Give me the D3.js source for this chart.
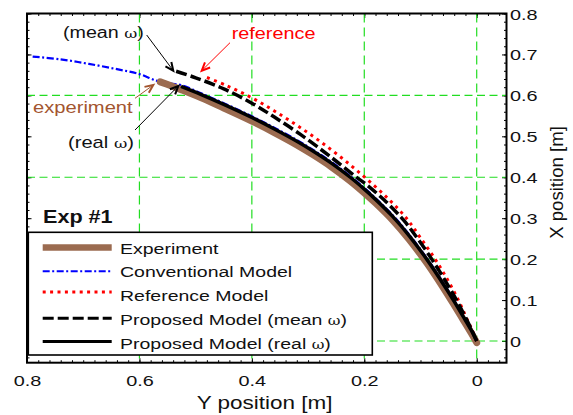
<!DOCTYPE html>
<html><head><meta charset="utf-8">
<script src="https://cdn.jsdelivr.net/npm/d3@7"></script>
<style>
body{margin:0;background:#fff;}
svg{display:block;font-family:"Liberation Sans",Arial,Helvetica,sans-serif;}
</style>
</head><body>
<svg id="chart" width="573" height="415"></svg>
<script>
// ---------------- data ----------------
const hTicks = [0.8, 0.6, 0.4, 0.2, 0];            // "Y position [m]" axis (horizontal, reversed)
const hTickLabels = ["0.8", "0.6", "0.4", "0.2", "0"];
const vTicks = [0, 0.1, 0.2, 0.3, 0.4, 0.5, 0.6, 0.7, 0.8]; // "X position [m]" axis (right)
const vTickLabels = ["0", "0.1", "0.2", "0.3", "0.4", "0.5", "0.6", "0.7", "0.8"];
const hGrid = [0.6, 0.4, 0.2, 0];
const vGrid = [0, 0.2, 0.4, 0.6];
const legendNames = ["Experiment", "Conventional Model", "Reference Model", "Proposed Model (mean \u03c9)", "Proposed Model (real \u03c9)"];

// [Y position, X position]
const experiment = [[0.000,-0.004],[0.010,0.020],[0.025,0.054],[0.0415,0.091],[0.065,0.142],[0.089,0.191],[0.120,0.248],[0.150,0.296],[0.180,0.337],[0.200,0.362],[0.225,0.391],[0.258,0.425],[0.290,0.454],[0.320,0.479],[0.360,0.509],[0.400,0.537],[0.450,0.569],[0.490,0.594],[0.526,0.614],[0.545,0.624],[0.563,0.633]];
const conventional = [[0.000,0.002],[0.010,0.030],[0.025,0.065],[0.0415,0.103],[0.065,0.154],[0.089,0.203],[0.120,0.260],[0.150,0.308],[0.180,0.349],[0.200,0.374],[0.225,0.403],[0.258,0.437],[0.290,0.466],[0.320,0.491],[0.360,0.521],[0.400,0.549],[0.450,0.581],[0.490,0.605],[0.526,0.625],[0.550,0.630],[0.570,0.636],[0.600,0.652],[0.640,0.664],[0.690,0.677],[0.740,0.688],[0.792,0.695]];
const referenceModel = [[0.000,0.000],[0.010,0.032],[0.020,0.062],[0.0326,0.100],[0.052,0.150],[0.074,0.200],[0.100,0.252],[0.125,0.300],[0.160,0.351],[0.200,0.401],[0.240,0.447],[0.280,0.489],[0.320,0.527],[0.360,0.562],[0.400,0.594],[0.445,0.624],[0.486,0.647]];
const meanOmega = [[0.000,0.000],[0.010,0.030],[0.020,0.058],[0.036,0.100],[0.058,0.152],[0.080,0.200],[0.105,0.250],[0.130,0.295],[0.165,0.345],[0.200,0.386],[0.213,0.399],[0.260,0.450],[0.313,0.504],[0.360,0.547],[0.400,0.581],[0.450,0.616],[0.500,0.643],[0.535,0.659]];
const realOmega = [[0.000,0.000],[0.010,0.027],[0.025,0.062],[0.0415,0.100],[0.065,0.151],[0.089,0.200],[0.120,0.257],[0.150,0.305],[0.180,0.346],[0.200,0.371],[0.225,0.400],[0.258,0.434],[0.290,0.463],[0.320,0.488],[0.360,0.518],[0.400,0.546],[0.450,0.578],[0.490,0.602],[0.526,0.622]];

// ---------------- styles ----------------
const seriesStyle = [
  {data: experiment,    stroke: "#9b6b50", width: 7,   dash: null,          lw: 6.5},
  {data: conventional,  stroke: "#0000ff", width: 2.2, dash: "7,2.5,2,2.5", lw: 2.2},
  {data: referenceModel,stroke: "#ff0000", width: 3,   dash: "3,4.4",       lw: 3},
  {data: meanOmega,     stroke: "#000000", width: 3.5, dash: "11,4",        lw: 3.2},
  {data: realOmega,     stroke: "#000000", width: 3.5, dash: null,          lw: 3.2}
];
const drawOrder = [1, 0, 2, 3, 4];

const L = 27, R = 506.5, T = 13.5, B = 362.7;
const svg = d3.select("#chart");
svg.append("rect").attr("width", 573).attr("height", 415).attr("fill", "#fff");

const x = d3.scaleLinear().domain([0.8, -0.053]).range([L, R]);
const y = d3.scaleLinear().domain([-0.053, 0.8]).range([B, T]);

const GREEN = "#22dd22";
const SX = 1.29;

// ---------------- ticks ----------------
const hMinor = d3.range(-4, 41).map(i => i * 0.02).filter(v => v >= -0.053 && v <= 0.8);
const vMinor = d3.range(-2, 41).map(i => i * 0.02).filter(v => v >= -0.053 && v <= 0.8);

function tickAxis(axis, transform, values, size) {
  const g = svg.append("g").attr("transform", transform)
    .call(axis.tickValues(values).tickSizeInner(size).tickSizeOuter(0).tickFormat(""));
  g.select(".domain").remove();
  g.selectAll(".tick line").attr("stroke", "#000").attr("stroke-width", 1);
  return g;
}
tickAxis(d3.axisBottom(x), `translate(0,${B})`, hMinor, -2.5);
tickAxis(d3.axisTop(x), `translate(0,${T})`, hMinor, -2.5);
tickAxis(d3.axisBottom(x), `translate(0,${B})`, hTicks, -4.5);
tickAxis(d3.axisTop(x), `translate(0,${T})`, hTicks, -4.5);
tickAxis(d3.axisRight(y), `translate(${R},0)`, vMinor, -2.5);
tickAxis(d3.axisLeft(y), `translate(${L},0)`, vMinor, -2.5);
tickAxis(d3.axisRight(y), `translate(${R},0)`, vTicks, -4.5);
tickAxis(d3.axisLeft(y), `translate(${L},0)`, vTicks, -4.5);

// tick labels
const bottomAxis = svg.append("g").attr("transform", `translate(0,${B})`)
  .call(d3.axisBottom(x).tickValues(hTicks).tickSize(0).tickPadding(11.9)
    .tickFormat((d, i) => hTickLabels[i]));
bottomAxis.select(".domain").remove();
bottomAxis.attr("font-family", null).attr("font-size", null);
bottomAxis.selectAll("text").attr("font-size", "15.4px").attr("fill", "#111")
  .attr("transform", `scale(${SX},1)`);

const rightAxis = svg.append("g").attr("transform", `translate(${R},0)`)
  .call(d3.axisRight(y).tickValues(vTicks).tickSize(0).tickPadding(3.5 / SX)
    .tickFormat((d, i) => vTickLabels[i]));
rightAxis.select(".domain").remove();
rightAxis.attr("font-family", null).attr("font-size", null);
rightAxis.selectAll("text").attr("font-size", "15.4px").attr("fill", "#111")
  .attr("dy", "0.36em").attr("transform", `scale(${SX},1)`);

// ---------------- grid ----------------
svg.append("g").selectAll("line").data(hGrid).join("line")
  .attr("x1", d => x(d)).attr("x2", d => x(d)).attr("y1", T).attr("y2", B)
  .attr("stroke", GREEN).attr("stroke-width", 1.2).attr("stroke-dasharray", "9,5");
svg.append("g").selectAll("line").data(vGrid).join("line")
  .attr("y1", d => y(d)).attr("y2", d => y(d)).attr("x1", L).attr("x2", R)
  .attr("stroke", GREEN).attr("stroke-width", 1.2).attr("stroke-dasharray", "8,4.5");

// ---------------- curves ----------------
const line = d3.line().x(d => x(d[0])).y(d => y(d[1])).curve(d3.curveCatmullRom);
svg.append("g").selectAll("path").data(drawOrder.map(i => seriesStyle[i])).join("path")
  .attr("d", d => line(d.data)).attr("fill", "none")
  .attr("stroke", d => d.stroke).attr("stroke-width", d => d.width)
  .attr("stroke-dasharray", d => d.dash)
  .attr("stroke-linecap", d => d.data === experiment ? "round" : "butt")
  .attr("stroke-linejoin", "round");

// ---------------- annotations ----------------
function sText(g, tx, ty, sx, size, color, parts, weight) {
  const t = g.append("text").attr("transform", `translate(${tx},${ty}) scale(${sx},1)`)
    .attr("font-size", size + "px").attr("fill", color);
  if (weight) t.attr("font-weight", weight);
  parts.forEach(p => {
    const s = t.append("tspan").text(p.t);
    if (p.size) s.attr("font-size", p.size + "px");
    if (p.family) s.attr("font-family", p.family);
  });
  return t;
}
function arrow(g, x1, y1, x2, y2, color) {
  g.append("line").attr("x1", x1).attr("y1", y1).attr("x2", x2).attr("y2", y2)
    .attr("stroke", color).attr("stroke-width", 1);
  const a = Math.atan2(y2 - y1, x2 - x1), len = 9, sp = 0.42;
  const p1 = [x2 - len * Math.cos(a - sp), y2 - len * Math.sin(a - sp)];
  const p2 = [x2 - len * Math.cos(a + sp), y2 - len * Math.sin(a + sp)];
  g.append("path").attr("d", `M${p1}L${x2},${y2}L${p2}`).attr("fill", "none")
    .attr("stroke", color).attr("stroke-width", 2).attr("stroke-linejoin", "miter");
}
const ann = svg.append("g");
const BROWN = "#a3552f";
arrow(ann, 146.7, 35, 173.3, 70.7, "#000");
arrow(ann, 230, 42.7, 201.7, 70.7, "#ff0000");
arrow(ann, 135, 98.3, 153.3, 85, BROWN);
arrow(ann, 135, 130, 178.3, 86, "#000");
const OM = {size: 13, family: "'DejaVu Serif', 'Liberation Serif', serif"};
sText(ann, 63, 37.5, 1.23, 16, "#111", [{t: "(mean "}, Object.assign({t: "\u03c9"}, OM), {t: ")"}]);
sText(ann, 231.7, 39.3, 1.24, 16, "#ff0000", [{t: "reference"}]);
sText(ann, 33, 113.3, 1.26, 16, BROWN, [{t: "experiment"}]);
sText(ann, 68, 148.3, 1.26, 16, "#111", [{t: "(real "}, Object.assign({t: "\u03c9"}, OM), {t: ")"}]);
sText(ann, 43, 222.7, 1.2, 18, "#111", [{t: "Exp #1"}], "bold");

// ---------------- legend ----------------
const lg = svg.append("g");
lg.append("rect").attr("x", 28.3).attr("y", 232.3).attr("width", 344).attr("height", 122.7)
  .attr("fill", "#fff").attr("stroke", "#000").attr("stroke-width", 1.6);
const base0 = 253.5, step = 23.75;
const sampleOff = [6, 6, 9, 6.5, 7];
seriesStyle.forEach((s, i) => {
  const by = base0 + i * step;
  lg.append("line").attr("x1", 42.7).attr("x2", 111.7)
    .attr("y1", by - sampleOff[i]).attr("y2", by - sampleOff[i])
    .attr("stroke", s.stroke).attr("stroke-width", s.lw)
    .attr("stroke-dasharray", s.dash);
  const name = legendNames[i];
  const parts = name.includes("\u03c9")
    ? [{t: name.slice(0, name.indexOf("\u03c9"))}, Object.assign({t: "\u03c9"}, {size: 12, family: OM.family}), {t: ")"}]
    : [{t: name}];
  sText(lg, 120, by, 1.3, 15, "#111", parts);
});

// ---------------- frame & titles ----------------
svg.append("rect").attr("x", L).attr("y", T).attr("width", R - L).attr("height", B - T)
  .attr("fill", "none").attr("stroke", "#000").attr("stroke-width", 2);

sText(svg, 196.7, 408.5, 1.21, 18.6, "#111", [{t: "Y position [m]"}]);
svg.append("text").attr("transform", "translate(563.3,182.5) rotate(-90)")
  .attr("text-anchor", "middle").attr("font-size", "18.6px").attr("fill", "#111")
  .text("X position [m]");
</script>
</body></html>
